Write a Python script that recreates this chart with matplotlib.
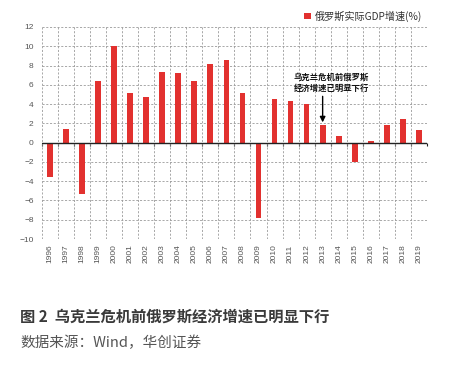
import matplotlib
matplotlib.use("Agg")
import matplotlib.pyplot as plt
import numpy as np

plt.rcParams['font.family'] = ['Noto Sans CJK SC', 'DejaVu Sans']

years = [str(y) for y in range(1996, 2020)]
gdp_growth = [-3.6, 1.4, -5.3, 6.4, 10.0, 5.1, 4.7, 7.3, 7.2, 6.4, 8.2, 8.6,
              5.2, -7.8, 4.5, 4.3, 4.0, 1.8, 0.7, -2.0, 0.2, 1.8, 2.5, 1.3]
series_name = '俄罗斯实际GDP增速(%)'
y_ticks = list(range(-10, 13, 2))
annotation_text = '乌克兰危机前俄罗斯\n经济增速已明显下行'
annotation_year = '2013'
title = '图 2  乌克兰危机前俄罗斯经济增速已明显下行'
source = '数据来源：Wind，华创证券'

red = '#e2312f'
grid_c = '#9a9a9a'
lab_c = '#555555'

fig = plt.figure(figsize=(4.64, 3.72), dpi=100)
ax = fig.add_axes([0.0905, 0.3575, 0.8295, 0.57])

x = np.arange(len(years))
ax.bar(x, gdp_growth, width=0.36, color=red, label=series_name, zorder=3)

ax.set_xlim(-0.5, len(years) - 0.5)
ax.set_ylim(-10, 12)
ax.set_yticks(y_ticks)
ax.set_yticklabels([str(v) if v >= 0 else '\u2212' + str(-v) for v in y_ticks],
                   fontsize=6, color=lab_c, family=['Liberation Sans', 'DejaVu Sans'])
ax.set_xticks(x)
ax.set_xticklabels(years, rotation=90, fontsize=6, color=lab_c,
                   family=['Liberation Sans', 'DejaVu Sans'])
ax.tick_params(axis='both', length=0)
ax.tick_params(axis='x', pad=4)
ax.tick_params(axis='y', pad=6)

# grid
ax.set_xticks(np.arange(-0.5, len(years), 1), minor=True)
ax.grid(True, which='minor', axis='x', color=grid_c, linestyle=(0, (2.5, 2)), lw=0.6, zorder=0)
ax.grid(True, which='major', axis='y', color=grid_c, linestyle=(0, (2.5, 2)), lw=0.6, zorder=0)
ax.tick_params(axis='x', which='minor', length=0)
for s in ax.spines.values():
    s.set_visible(False)

# zero axis line with ticks at boundaries
ax.axhline(0, color='#222222', lw=1.0, zorder=4)
zero_frac = (0 - (-10)) / (12 - (-10))
sec = ax.secondary_xaxis(zero_frac)
sec.set_xticks(np.arange(-0.5, len(years), 1))
sec.set_xticklabels([])
sec.tick_params(direction='out', length=2.5, width=0.8, color='#222222')
sec.spines['bottom'].set_visible(False)

# annotation
i13 = years.index(annotation_year)
v13 = gdp_growth[i13]
ax.annotate('', xy=(i13, v13 + 0.3), xytext=(i13, v13 + 3.0),
            arrowprops=dict(arrowstyle='-|>', color='black', lw=1.0,
                            mutation_scale=8, shrinkA=0, shrinkB=0), zorder=5)
ax.text(i13 + 0.55, v13 + 4.4, annotation_text, ha='center', va='center',
        fontsize=6, fontweight='bold', color='#111111', linespacing=1.35, zorder=5)

# legend
leg = ax.legend(loc='lower right', bbox_to_anchor=(1.0, 1.0), frameon=False,
                fontsize=7.3, handlelength=0.6, handleheight=0.6, handletextpad=0.4,
                borderpad=0.2, borderaxespad=0.3)
for t in leg.get_texts():
    t.set_color('#333333')

fig.text(0.043, 0.148, title, fontsize=11, fontweight='bold', color='#3a3a3a',
         ha='left', va='center')
fig.text(0.043, 0.078, source, fontsize=10.5, color='#555555', ha='left', va='center')

fig.savefig('out.png', dpi=100, facecolor='white')
